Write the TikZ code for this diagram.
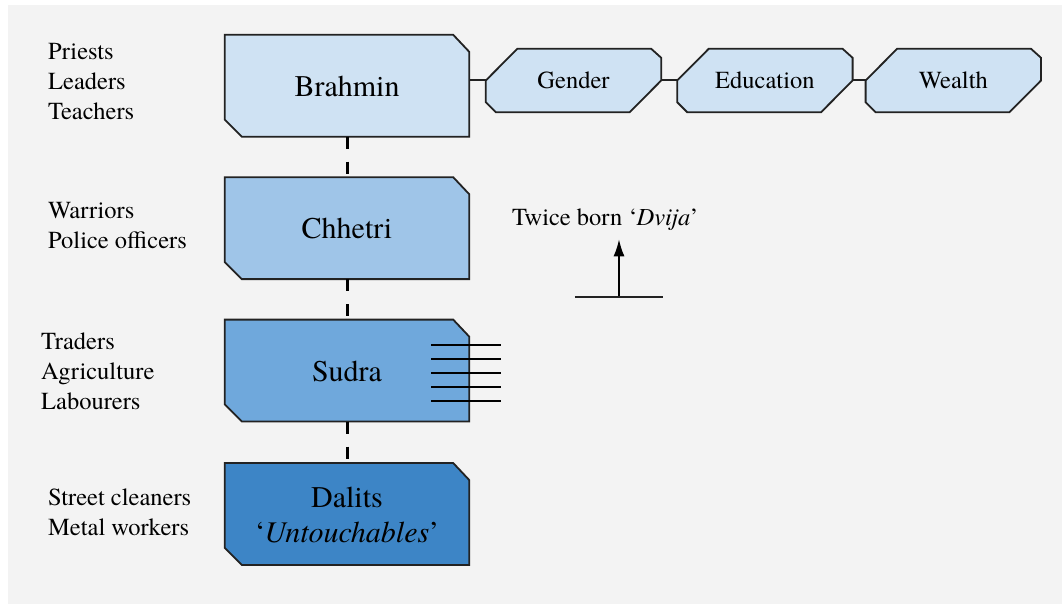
\documentclass[tikz,border=0pt]{standalone}
\usepackage{fontspec}
\setmainfont{texgyretermes}[Extension=.otf, UprightFont=*-regular, ItalicFont=*-italic, BoldFont=*-bold, BoldItalicFont=*-bolditalic]
\usepackage{tikz}
\usetikzlibrary{positioning, arrows.meta, backgrounds}
\definecolor{bg}{HTML}{F3F3F3}
\definecolor{tier1}{HTML}{CFE2F3}
\definecolor{tier2}{HTML}{9FC5E8}
\definecolor{tier3}{HTML}{6FA8DC}
\definecolor{tier4}{HTML}{3D85C6}
\definecolor{edge}{HTML}{222222}
\tikzstyle{caste} = [rectangle, minimum width=244pt, minimum height=100pt, inner sep=0pt, text centered, align=center, font=\fontsize{30}{35}\selectfont]
\tikzstyle{factor} = [rectangle, minimum width=175pt, minimum height=63pt, inner sep=0pt, text centered, font=\fontsize{24.5}{30}\selectfont]
\tikzstyle{jobs} = [anchor=west, inner sep=0pt, align=left, font=\fontsize{24.5}{30}\selectfont]
\tikzstyle{outline} = [draw=edge, line width=1.8pt]
\tikzstyle{link} = [draw=black, line width=3pt, dash pattern=on 12pt off 13pt]
\tikzstyle{joint} = [draw=edge, line width=2pt]
\tikzstyle{arrow} = [line width=1.8pt, -{Latex[length=17pt, width=11pt]}]

\begin{document}
\begin{tikzpicture}[x=1pt, y=-1pt, node distance=42pt]
	\useasboundingbox (0,0) rectangle (1062,604);
	
	\node(cas1) [caste] at (347,86.5) {Brahmin};
	\node(cas2) [caste, below=of cas1] {Chhetri};
	\node(cas3) [caste, below=of cas2] {Sudra};
	\node(cas4) [caste, below=43pt of cas3] {Dalits\\‘\textit{Untouchables}’};
	
	\node(fac1) [factor] at (573.5,80.5) {Gender};
	\node(fac2) [factor, right=16pt of fac1] {Education};
	\node(fac3) [factor, right=13pt of fac2] {Wealth};
	
	\node(job1) [jobs] at (48,82) {Priests\\Leaders\\Teachers};
	\node(job2) [jobs] at (48,226) {Warriors\\Police officers};
	\node(job3) [jobs] at (41,371) {Traders\\Agriculture\\Labourers};
	\node(job4) [jobs] at (48,512) {Street cleaners\\Metal workers};
	
	\node(twice) [anchor=base west, inner xsep=0pt, inner ysep=9pt, font=\fontsize{24.5}{30}\selectfont] at (512,225) {Twice born ‘\textit{Dvija}’};
	\node(base) [minimum width=88pt, inner sep=0pt] at (619,297) {};
	
	\draw[link] (cas1) -- (cas2);
	\draw[link] (cas2) -- (cas3);
	\draw[link] (cas3) -- (cas4);
	\draw[joint] (fac1.west -| cas1.east) -- (fac1.west);
	\draw[joint] (fac1) -- (fac2);
	\draw[joint] (fac2) -- (fac3);
	\draw[joint, line width=1.6pt] (base.west) -- (base.east);
	\draw[arrow] (base) -- (base |- twice.south);
	\foreach \k in {0,...,4}
		\draw[black, line width=1.5pt] ([xshift=-38pt, yshift={26.5pt-14pt*\k}]cas3.east) -- ++(70pt,0);
	
	\begin{scope}[on background layer]
		\fill[bg] (8,5) rectangle (1062,604);
		\foreach \n/\c in {cas1/tier1, cas2/tier2, cas3/tier3, cas4/tier4}
			\draw[outline, fill=\c] ([yshift=1.5pt]\n.north west) -- ([xshift=-16pt, yshift=1.5pt]\n.north east) -- ([yshift=-15.5pt]\n.north east) -- (\n.south east) -- ([xshift=17pt]\n.south west) -- ([yshift=17pt]\n.south west) -- cycle;
		\foreach \n in {fac1, fac2, fac3}
			\draw[outline, fill=tier1] (\n.west) -- ([xshift=31.5pt]\n.north west) -- ([xshift=-10pt]\n.north east) -- ([yshift=-9pt]\n.north east) -- (\n.east) -- ([xshift=-31.5pt]\n.south east) -- ([xshift=10pt]\n.south west) -- ([yshift=10pt]\n.south west) -- cycle;
	\end{scope}
\end{tikzpicture}
\end{document}
